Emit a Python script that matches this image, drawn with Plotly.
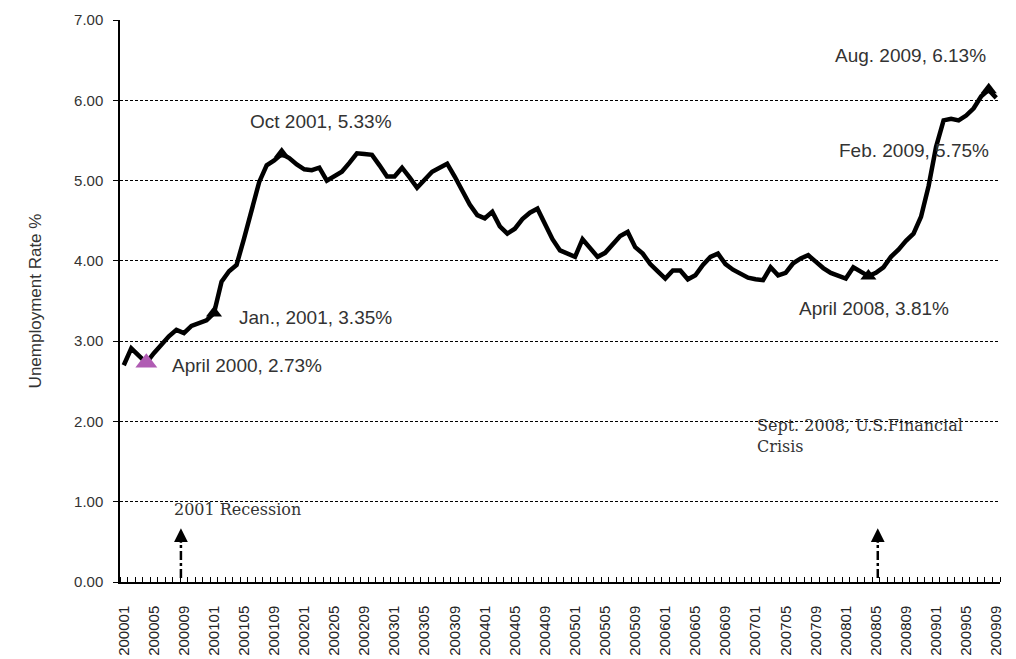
import plotly.graph_objects as go

# ---- data ----
months = [f"{y}{m:02d}" for y in range(2000, 2010) for m in range(1, 13)][:117]  # 200001 .. 200909
rate = [
    2.70, 2.91, 2.82, 2.73, 2.85, 2.96, 3.06, 3.14, 3.10, 3.19, 3.22, 3.26,   # 2000
    3.35, 3.74, 3.87, 3.95, 4.28, 4.62, 4.98, 5.19, 5.25, 5.33, 5.28, 5.20,   # 2001
    5.14, 5.13, 5.16, 5.00, 5.06, 5.11, 5.22, 5.34, 5.33, 5.32, 5.19, 5.05,   # 2002
    5.05, 5.16, 5.04, 4.91, 5.01, 5.11, 5.16, 5.21, 5.05, 4.88, 4.70, 4.57,   # 2003
    4.53, 4.61, 4.43, 4.34, 4.40, 4.52, 4.60, 4.65, 4.46, 4.27, 4.13, 4.09,   # 2004
    4.05, 4.27, 4.15, 4.05, 4.10, 4.20, 4.31, 4.36, 4.17, 4.09, 3.96, 3.87,   # 2005
    3.78, 3.88, 3.88, 3.77, 3.82, 3.95, 4.05, 4.09, 3.96, 3.89, 3.84, 3.79,   # 2006
    3.77, 3.76, 3.92, 3.82, 3.85, 3.97, 4.03, 4.07, 3.99, 3.91, 3.85, 3.81,   # 2007
    3.78, 3.92, 3.86, 3.81, 3.85, 3.92, 4.05, 4.14, 4.25, 4.34, 4.55, 4.93,   # 2008
    5.42, 5.75, 5.77, 5.75, 5.81, 5.90, 6.05, 6.13, 6.03,                     # 2009
]
tick_labels = ["200001", "200005", "200009", "200101", "200105", "200109",
               "200201", "200205", "200209", "200301", "200305", "200309",
               "200401", "200405", "200409", "200501", "200505", "200509",
               "200601", "200605", "200609", "200701", "200705", "200709",
               "200801", "200805", "200809", "200901", "200905", "200909"]
highlight_months = ["200004", "200101", "200110", "200804", "200908"]
highlight_colors = ["#b05cb3", "black", "black", "black", "black"]
highlight_sizes = [19, 14, 14, 14, 14]

callouts = [  # text, x position (month index), y value
    ("April 2000, 2.73%", 6.1, 2.70),
    ("Jan., 2001, 3.35%", 15.0, 3.30),
    ("Oct 2001, 5.33%", 16.5, 5.73),
    ("Aug. 2009, 6.13%", 94.3, 6.56),
    ("Feb. 2009, 5.75%", 94.8, 5.38),
    ("April 2008, 3.81%", 89.5, 3.41),
]
events = [  # text, text x, text y, arrow x
    ("2001 Recession", 6.4, 0.90, 7.6),
    ("Sept. 2008, U.S.Financial<br>Crisis", 83.9, 1.82, 100.25),
]

x_idx = list(range(len(months)))
tick_idx = [months.index(t) for t in tick_labels]
hi_idx = [months.index(m) for m in highlight_months]

fig = go.Figure()
fig.add_trace(go.Scatter(
    x=x_idx, y=rate, mode="lines",
    line=dict(color="black", width=4.5), showlegend=False, hoverinfo="skip"))
fig.add_trace(go.Scatter(
    x=hi_idx, y=[rate[i] for i in hi_idx], mode="markers",
    marker=dict(symbol="triangle-up", color=highlight_colors, size=highlight_sizes,
                opacity=1, line=dict(width=0)),
    showlegend=False, hoverinfo="skip"))

annotations = []
for text, ax_, ay_ in callouts:
    annotations.append(dict(x=ax_, y=ay_, xref="x", yref="y", text=text,
                            showarrow=False, xanchor="left", yanchor="middle",
                            font=dict(family="Liberation Sans, Arial", size=19, color="#333333")))
shapes = []
for text, tx, ty, arx in events:
    annotations.append(dict(x=tx, y=ty, xref="x", yref="y", text=text, align="left",
                            showarrow=False, xanchor="left", yanchor="middle",
                            font=dict(family="DejaVu Serif", size=16, color="#333333")))
    shapes.append(dict(type="line", xref="x", yref="y", x0=arx, x1=arx, y0=0.05, y1=0.50,
                       line=dict(color="black", width=2.5, dash="dashdot")))
    annotations.append(dict(x=arx, y=0.67, ax=arx, ay=0.47, xref="x", yref="y",
                            axref="x", ayref="y", text="", showarrow=True,
                            arrowhead=2, arrowsize=1.1, arrowwidth=2.5, arrowcolor="black"))

fig.update_layout(
    width=1016, height=659,
    margin=dict(l=112, r=24, t=12, b=85, autoexpand=False),
    paper_bgcolor="white", plot_bgcolor="white",
    annotations=annotations, shapes=shapes,
    xaxis=dict(
        range=[-0.5, len(months) - 0.5], automargin=False,
        tickmode="array", tickvals=tick_idx, ticktext=tick_labels,
        tickangle=-90, ticks="", showgrid=False, zeroline=False,
        showline=True, linecolor="black", linewidth=1.5,
        ticklabelstandoff=16,
        tickfont=dict(family="Liberation Sans, Arial", size=15, color="#222222"),
        minor=dict(ticks="inside", tickmode="linear", tick0=-0.5, dtick=1,
                   ticklen=5, tickcolor="black", tickwidth=1, showgrid=False),
    ),
    yaxis=dict(
        range=[0, 7.0], automargin=False,
        tickmode="linear", tick0=0, dtick=1, tickformat=".2f",
        ticks="outside", ticklen=5, tickcolor="black",
        showgrid=True, gridcolor="black", gridwidth=1, griddash="3px,2px",
        zeroline=False, showline=True, linecolor="black", linewidth=1.5,
        ticklabelstandoff=7,
        tickfont=dict(family="Liberation Sans, Arial", size=15, color="#333333"),
        title=dict(text="Unemployment Rate %", standoff=28,
                   font=dict(family="Liberation Sans, Arial", size=17, color="#333333")),
    ),
)

fig.write_html("out.html")
